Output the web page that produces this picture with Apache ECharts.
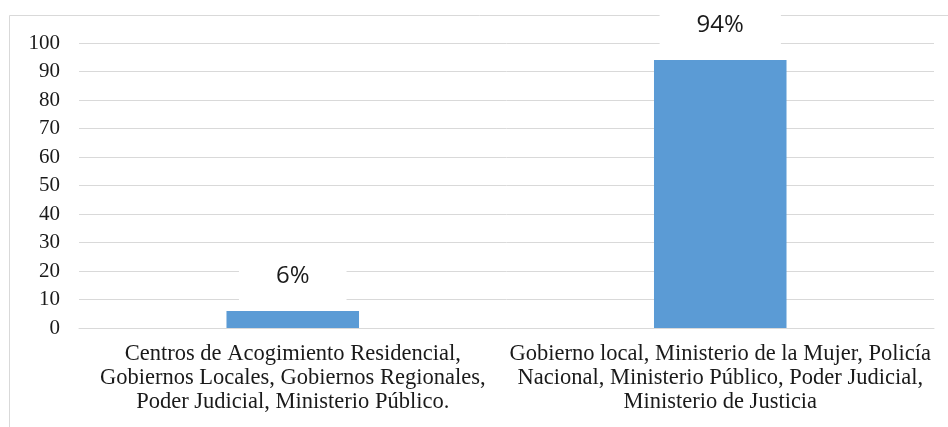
<!DOCTYPE html>
<html>
<head>
<meta charset="utf-8">
<script src="https://cdn.jsdelivr.net/npm/echarts@6/dist/echarts.min.js"></script>
<style>html,body{margin:0;padding:0;background:#fff}#c{width:948px;height:427px}</style>
</head>
<body>
<div id="c"></div>
<script>
const categories = [
  "Centros de Acogimiento Residencial,\nGobiernos Locales, Gobiernos Regionales,\nPoder Judicial, Ministerio Público.",
  "Gobierno local, Ministerio de la Mujer, Policía\nNacional, Ministerio Público, Poder Judicial,\nMinisterio de Justicia"
];
const values = [6, 94];
const valueLabels = ["6%", "94%"];
const yTicks = [0, 10, 20, 30, 40, 50, 60, 70, 80, 90, 100];

const serif = "Liberation Serif";
const chart = echarts.init(document.getElementById('c'), null, {renderer: 'canvas'});
chart.setOption({
  animation: false,
  backgroundColor: '#fff',
  graphic: [{
    type: 'rect', z: -1, silent: true,
    shape: {x: 9.5, y: 15.5, width: 1000, height: 1000},
    style: {fill: 'none', stroke: '#D9D9D9', lineWidth: 1}
  }],
  grid: {left: 79, right: 14, top: 43, bottom: 99, containLabel: false},
  xAxis: {
    type: 'category',
    data: categories,
    axisLine: {show: true, lineStyle: {color: '#D9D9D9', width: 1}},
    axisTick: {show: false},
    axisLabel: {
      interval: 0, margin: 14, color: '#1a1a1a',
      fontFamily: serif, fontSize: 22.5, lineHeight: 24, align: 'center'
    }
  },
  yAxis: {
    type: 'value', min: yTicks[0], max: yTicks[yTicks.length - 1], interval: 10,
    axisLine: {show: false}, axisTick: {show: false},
    splitLine: {lineStyle: {color: '#D9D9D9', width: 1}},
    axisLabel: {margin: 19, color: '#1a1a1a', fontFamily: serif, fontSize: 21}
  },
  series: [{
    type: 'bar',
    data: values,
    barWidth: '31%',
    itemStyle: {color: '#5B9BD5'},
    label: {
      show: true, position: 'top', distance: 7,
      formatter: p => valueLabels[p.dataIndex],
      color: '#1a1a1a', fontFamily: "Open Sans", fontSize: 24, lineHeight: 24,
      backgroundColor: '#fff', padding: [16, 37]
    }
  }]
});
</script>
</body>
</html>
